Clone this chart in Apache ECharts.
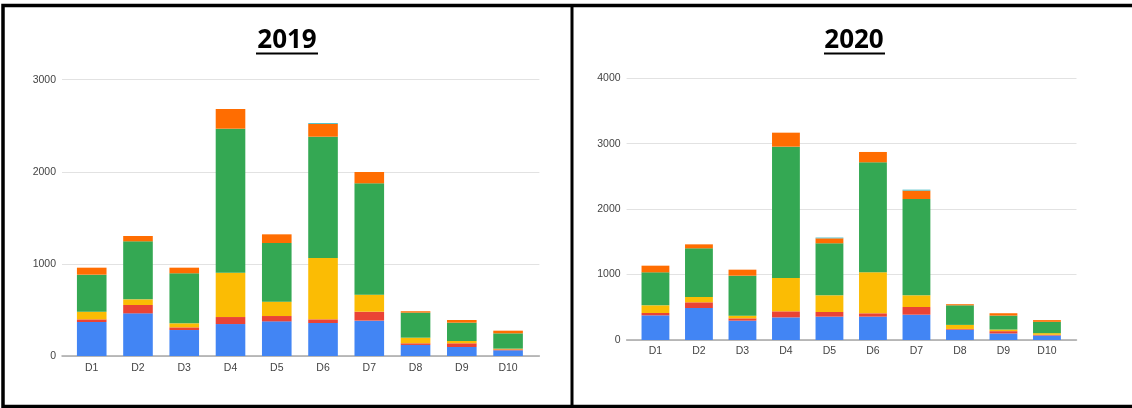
<!DOCTYPE html>
<html>
<head>
<meta charset="utf-8">
<script src="https://cdn.jsdelivr.net/npm/echarts@6/dist/echarts.min.js"></script>
<style>
  html, body { margin: 0; padding: 0; background: #fff; }
  #chart { width: 1132px; height: 408px; }
</style>
</head>
<body>
<div id="chart"></div>
<script>
// ---- data ----
const categories = ['D1', 'D2', 'D3', 'D4', 'D5', 'D6', 'D7', 'D8', 'D9', 'D10'];
const titles = ['2019', '2020'];
const yMax2019 = 3000;
const yMax2020 = 4000;
const yStep = 1000;

const blue2019   = [369, 463, 282, 347, 376, 358, 384, 120, 98, 62];
const red2019    = [29, 91, 29, 76, 58, 40, 97, 18, 40, 10];
const yellow2019 = [83, 61, 44, 482, 156, 666, 185, 61, 25, 8];
const green2019  = [402, 630, 543, 1563, 637, 1317, 1209, 272, 199, 166];
const orange2019 = [76, 58, 61, 214, 94, 138, 123, 15, 29, 29];
const teal2019   = [0, 0, 0, 0, 0, 10, 0, 0, 0, 0];

const blue2020   = [377, 489, 296, 346, 357, 357, 387, 158, 100, 69];
const red2020    = [36, 87, 35, 92, 71, 51, 117, 11, 35, 11];
const yellow2020 = [117, 81, 41, 510, 255, 626, 179, 62, 25, 25];
const green2020  = [504, 744, 611, 2007, 795, 1682, 1472, 299, 213, 173];
const orange2020 = [102, 61, 92, 214, 76, 158, 128, 17, 36, 26];
const teal2020   = [0, 0, 0, 0, 12, 0, 15, 0, 0, 0];

const colors = ['#4285f4', '#ea4335', '#fbbc04', '#34a853', '#ff6d01', '#46bdc6'];
const seriesNames = ['Series 1', 'Series 2', 'Series 3', 'Series 4', 'Series 5', 'Series 6'];

// ---- chart ----
const chart = echarts.init(document.getElementById('chart'), null, { renderer: 'canvas' });
const labelFont = 'Liberation Sans, Arial, sans-serif';

const years = [
  { data: [blue2019, red2019, yellow2019, green2019, orange2019, teal2019], max: yMax2019 },
  { data: [blue2020, red2020, yellow2020, green2020, orange2020, teal2020], max: yMax2020 }
];

const grids = [
  { left: 62, right: 592.6, top: 79.7, bottom: 52 },      // left: gridlines / y labels
  { left: 68.6, right: 600.8, top: 79.7, bottom: 52 },    // left: bars
  { left: 626.6, right: 55.5, top: 78.3, bottom: 68 },    // right: gridlines / y labels
  { left: 633.7, right: 63.3, top: 78.3, bottom: 68 }     // right: bars
];

const xAxes = [], yAxes = [], series = [];
years.forEach((yr, i) => {
  const gA = i * 2, gB = i * 2 + 1;
  xAxes.push({
    type: 'value', gridIndex: gA, min: 0, max: 1,
    axisLabel: { show: false }, axisTick: { show: false }, splitLine: { show: false },
    axisLine: { show: true, lineStyle: { color: '#a8a8a8', width: 1.5 } }
  });
  xAxes.push({
    type: 'category', gridIndex: gB, data: categories,
    axisLine: { show: false }, axisTick: { show: false },
    axisLabel: { color: '#444', fontSize: 10.5, fontFamily: labelFont, margin: i === 0 ? 7 : 6 }
  });
  yAxes.push({
    type: 'value', gridIndex: gA, min: 0, max: yr.max, interval: yStep,
    axisLine: { show: false }, axisTick: { show: false },
    axisLabel: { color: '#444', fontSize: 10.5, fontFamily: labelFont, margin: 6,
                 formatter: v => String(v) },
    splitLine: { show: true, lineStyle: { color: '#e2e2e2', width: 1 } }
  });
  yAxes.push({
    type: 'value', gridIndex: gB, min: 0, max: yr.max, interval: yStep, show: false,
    splitLine: { show: false }
  });
  yr.data.forEach((arr, k) => {
    series.push({
      name: seriesNames[k],
      type: 'bar',
      stack: 'total' + i,
      xAxisIndex: gB,
      yAxisIndex: gB,
      barWidth: '64%',
      data: arr,
      itemStyle: { color: colors[k] },
      emphasis: { disabled: true }
    });
  });
});

const option = {
  animation: false,
  backgroundColor: '#ffffff',
  grid: grids,
  xAxis: xAxes,
  yAxis: yAxes,
  series: series,
  graphic: [
    { type: 'rect', z: 100, shape: { x: 3, y: 5.5, width: 1140, height: 401 },
      style: { fill: 'none', stroke: '#000', lineWidth: 3.5 } },
    { type: 'line', z: 100, shape: { x1: 572, y1: 5, x2: 572, y2: 408 },
      style: { stroke: '#000', lineWidth: 3 } },
    { type: 'text', z: 100, x: 287, y: 41,
      style: { text: titles[0], fill: '#000', font: 'bold 26px "Open Sans", sans-serif',
               textAlign: 'center', textVerticalAlign: 'middle' } },
    { type: 'line', z: 100, shape: { x1: 256, y1: 53.5, x2: 318, y2: 53.5 },
      style: { stroke: '#000', lineWidth: 2 } },
    { type: 'text', z: 100, x: 854, y: 41,
      style: { text: titles[1], fill: '#000', font: 'bold 26px "Open Sans", sans-serif',
               textAlign: 'center', textVerticalAlign: 'middle' } },
    { type: 'line', z: 100, shape: { x1: 824, y1: 53.5, x2: 885, y2: 53.5 },
      style: { stroke: '#000', lineWidth: 2 } }
  ]
};
chart.setOption(option);
</script>
</body>
</html>
